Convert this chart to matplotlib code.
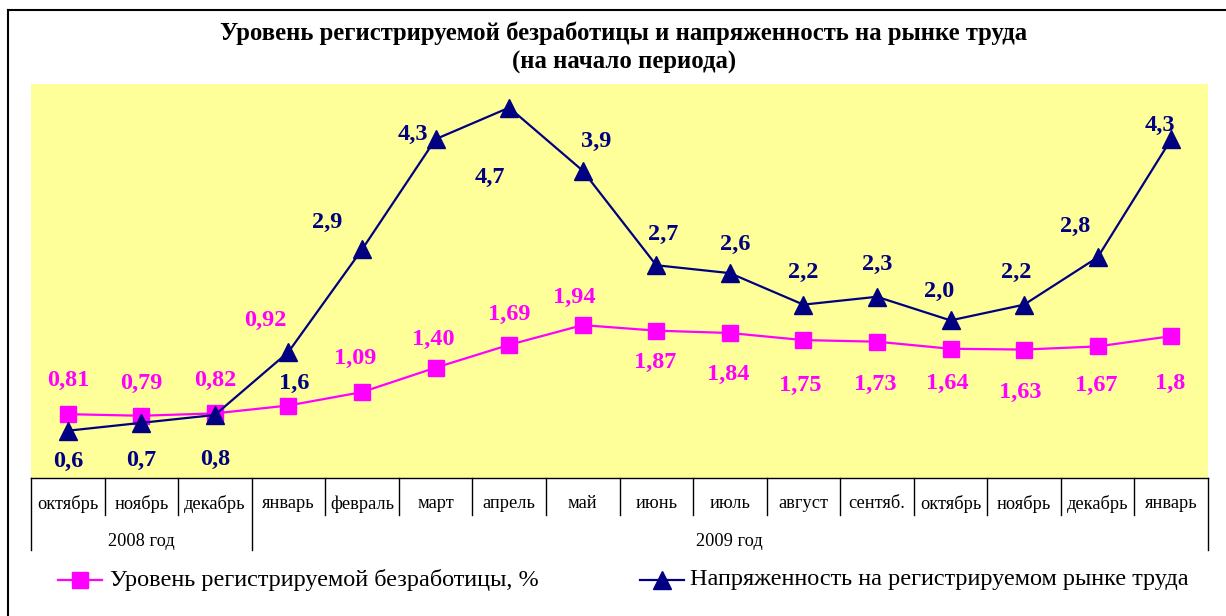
import matplotlib
matplotlib.use("Agg")
import matplotlib.pyplot as plt
from matplotlib.lines import Line2D
import matplotlib.transforms as mtransforms

months = ["октябрь", "ноябрь", "декабрь", "январь", "февраль", "март", "апрель",
          "май", "июнь", "июль", "август", "сентяб.", "октябрь", "ноябрь",
          "декабрь", "январь"]
years = ["2008 год", "2009 год"]
year_spans = [(0, 3), (3, 16)]
unemployment = [0.81, 0.79, 0.82, 0.92, 1.09, 1.40, 1.69, 1.94, 1.87, 1.84,
                1.75, 1.73, 1.64, 1.63, 1.67, 1.8]
unemp_labels = ["0,81", "0,79", "0,82", "0,92", "1,09", "1,40", "1,69", "1,94",
                "1,87", "1,84", "1,75", "1,73", "1,64", "1,63", "1,67", "1,8"]
tension = [0.6, 0.7, 0.8, 1.6, 2.9, 4.3, 4.7, 3.9, 2.7, 2.6, 2.2, 2.3, 2.0,
           2.2, 2.8, 4.3]
tension_labels = ["0,6", "0,7", "0,8", "1,6", "2,9", "4,3", "4,7", "3,9", "2,7",
                  "2,6", "2,2", "2,3", "2,0", "2,2", "2,8", "4,3"]
title_lines = ["Уровень регистрируемой безработицы и напряженность на рынке труда",
               "(на начало периода)"]
legend_labels = ["Уровень регистрируемой безработицы, %",
                 "Напряженность на регистрируемом рынке труда"]

MAG = "#FF00FF"
NAVY = "#000080"
SERIF = ["Liberation Serif", "DejaVu Serif"]
plt.rcParams["font.family"] = SERIF

W, H = 1226, 616
fig = plt.figure(figsize=(W / 100, H / 100), dpi=100)

def fx(px):
    return px / W

def fy(py):
    return 1 - py / H

# outer frame
fig.add_artist(Line2D([fx(8), fx(8)], [fy(10), fy(616)], color="black", lw=1.5))
fig.add_artist(Line2D([fx(8), fx(1226)], [fy(10), fy(10)], color="black", lw=1.5))

left, right, top, bottom = 31, 1208, 84, 478
ax = fig.add_axes([fx(left), fy(bottom), fx(right - left), (bottom - top) / H])
ax.set_facecolor("#FFFF99")
for s in ax.spines.values():
    s.set_visible(False)
ax.set_xlim(-0.5, len(months) - 0.5)
ax.set_ylim(0, 5)
ax.set_xticks([])
ax.set_yticks([])

x = list(range(len(months)))
ax.plot(x, unemployment, color=MAG, lw=1.6, marker="s", ms=12, mfc=MAG, mec=MAG,
        zorder=3, clip_on=False)
ax.plot(x, tension, color=NAVY, lw=1.6, marker="^", ms=13, mfc=NAVY, mec=NAVY,
        zorder=4, clip_on=False)

# data label offsets (points)
u_off = [(0, 24), (0, 23), (0, 24), (-16.5, 61), (-5, 24), (-2, 20), (0, 22), (-6, 20),
         (-1, -23), (-1, -30), (-2, -33), (-1, -31), (-2, -25), (-3, -31), (-1, -28), (-1, -34)]
t_off = [(0, -22), (0, -27), (0, -32), (4, -23), (-25, 19.5), (-16.5, 3.6), (-14, -50), (10, 21),
         (5, 22), (4, 21), (0, 23), (0, 23), (-8, 21), (-6, 23), (-16.5, 22), (-8, 10)]
for i in x:
    ax.annotate(unemp_labels[i], (i, unemployment[i]), xytext=u_off[i],
                textcoords="offset points", ha="center", va="center",
                fontsize=17.5, fontweight="bold", color=MAG, annotation_clip=False)
    ax.annotate(tension_labels[i], (i, tension[i]), xytext=t_off[i],
                textcoords="offset points", ha="center", va="center",
                fontsize=17.5, fontweight="bold", color=NAVY, annotation_clip=False)

# category table below axes
tr = mtransforms.blended_transform_factory(ax.transData, fig.transFigure)
row1_top, row1_bot, row2_bot = fy(478), fy(515), fy(550)
ax.add_artist(Line2D([-0.5, len(months) - 0.5], [row1_top, row1_top], transform=tr,
                     color="black", lw=1.0, clip_on=False))
for b in range(len(months) + 1):
    xb = b - 0.5
    full = b in (0, 3, len(months))
    ax.add_artist(Line2D([xb, xb], [row1_top, row2_bot if full else row1_bot],
                         transform=tr, color="black", lw=1.0, clip_on=False))
for i, m in enumerate(months):
    ax.text(i, fy(504), m, transform=tr, ha="center", va="center", fontsize=13.2,
            clip_on=False)
for yname, (a, b) in zip(years, year_spans):
    ax.text((a + b - 1) / 2, fy(541), yname, transform=tr, ha="center",
            va="center", fontsize=13.2, clip_on=False)

# title
for line, ty in zip(title_lines, (33, 62)):
    fig.text(fx(624), fy(ty), line, ha="center", va="center", fontsize=17.8,
             fontweight="bold")

# legend
fig.add_artist(Line2D([fx(58), fx(102)], [fy(580), fy(580)], color=MAG, lw=1.6))
fig.add_artist(Line2D([fx(80)], [fy(580)], color=MAG, marker="s", ms=12, lw=0))
fig.text(fx(110), fy(580), legend_labels[0], ha="left", va="center", fontsize=17.5)
fig.add_artist(Line2D([fx(640), fx(684)], [fy(580), fy(580)], color=NAVY, lw=1.6))
fig.add_artist(Line2D([fx(662)], [fy(580)], color=NAVY, marker="^", ms=13, lw=0))
fig.text(fx(690), fy(580), legend_labels[1], ha="left", va="center", fontsize=17.5)

fig.savefig("out.png", dpi=100, facecolor="white")
